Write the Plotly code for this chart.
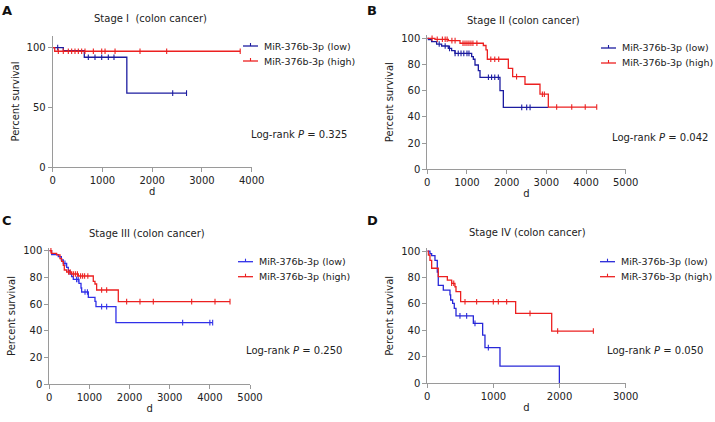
import numpy as np
import plotly.graph_objects as go

W, H = 715, 422

# ---------------- data ----------------
series_names = ["MiR-376b-3p (low)", "MiR-376b-3p (high)"]
panel_titles = ["Stage I  (colon cancer)", "Stage II (colon cancer)",
                "Stage III (colon cancer)", "Stage IV (colon cancer)"]
panel_letters = ["A", "B", "C", "D"]
p_values = ["0.325", "0.042", "0.250", "0.050"]

# Panel A (Stage I)
A_low_t = [0, 213, 635, 1490, 2690]
A_low_s = [100, 97.5, 92, 62, 62]
A_low_cens = [100, 716, 850, 985, 1118, 1232, 2412, 2690]
A_high_t = [0, 40, 3770]
A_high_s = [100, 97, 97]
A_high_cens = [113, 213, 314, 381, 448, 515, 582, 649, 817, 985, 1052, 1253, 1755, 2291, 3769]

# Panel B (Stage II)
B_low_t = [0, 25, 109, 235, 361, 529, 613, 697, 1118, 1160, 1202, 1286, 1328, 1832, 1916, 3050]
B_low_s = [100, 99, 97.4, 95.6, 94.1, 92.3, 90.5, 88.5, 86, 84, 79.6, 75.3, 70.2, 60, 47.3, 47.3]
B_low_cens = [300, 450, 560, 700, 780, 850, 920, 1000, 1050, 1540, 1620, 1700, 1790, 2380, 2505, 2590]
B_high_t = [0, 193, 530, 824, 1412, 1479, 1513, 2042, 2151, 2462, 2840, 3050, 4270]
B_high_s = [100, 99.2, 98.2, 96.2, 94.5, 91.2, 84, 77, 70.7, 64.9, 57.3, 47.5, 47.5]
B_high_cens = [120, 250, 380, 450, 500, 620, 700, 900, 950, 1000, 1050, 1100, 1150, 1250,
               1600, 1700, 1800, 2250, 2900, 2950, 3260, 3640, 3980, 4270]

# Panel C (Stage III)
C_low_t = [0, 58, 224, 300, 349, 432, 473, 515, 556, 598, 739, 790, 806, 972, 1138, 1163, 1661, 4070]
C_low_s = [100, 97, 95.5, 93, 90.5, 87.5, 85, 82.5, 80.5, 78.5, 75.5, 72, 69, 65, 62, 58, 46, 46]
C_low_cens = [390, 680, 720, 890, 950, 1304, 1429, 3322, 4000, 4070]
C_high_t = [0, 58, 183, 266, 307, 349, 374, 432, 556, 723, 1096, 1138, 1179, 1719, 4502]
C_high_s = [100, 98, 96.8, 94, 92, 89, 85.5, 84, 82.5, 81, 77, 75, 70.5, 61.75, 61.75]
C_high_cens = [40, 480, 520, 600, 650, 700, 780, 830, 880, 960, 1304, 1429,
               1927, 2259, 2591, 3547, 4128, 4502]

# Panel D (Stage IV)
D_low_t = [0, 40, 66, 116, 151, 166, 242, 343, 353, 383, 408, 434, 696, 837, 872, 1099, 1997]
D_low_s = [100, 98, 96.5, 93, 84, 74, 70.5, 66.8, 63, 60.5, 56.7, 51, 45.3, 36.5, 27, 13, 0]
D_low_cens = [494, 595, 721, 923]
D_high_t = [0, 15, 40, 66, 166, 303, 368, 418, 434, 504, 1336, 1881, 2511]
D_high_s = [100, 97, 93, 87, 80.6, 78, 75.6, 73, 69.3, 61.7, 52.9, 39.5, 39.5]
D_high_cens = [368, 400, 570, 746, 998, 1074, 1200, 1553, 1971, 2511]

x_ranges = [[0, 4000], [0, 5000], [0, 5000], [0, 3000]]
x_dticks = [1000, 1000, 1000, 1000]
y_ranges = [[0, 110], [0, 102.5], [0, 102], [0, 102]]
y_dticks = [50, 20, 20, 20]

panels = [
    (A_low_t, A_low_s, A_low_cens, A_high_t, A_high_s, A_high_cens),
    (B_low_t, B_low_s, B_low_cens, B_high_t, B_high_s, B_high_cens),
    (C_low_t, C_low_s, C_low_cens, C_high_t, C_high_s, C_high_cens),
    (D_low_t, D_low_s, D_low_cens, D_high_t, D_high_s, D_high_cens),
]

low_colors = ["#1c1ca0", "#1c1ca0", "#3030e8", "#2828d8"]
high_colors = ["#ec2020", "#ec2020", "#ec2020", "#ec2020"]

# ---------------- layout geometry (pixels) ----------------
dom_px = [
    (52.7, 251.7, 167.3, 35.7),
    (427.3, 625.7, 169.3, 35.0),
    (49.3, 250.0, 384.0, 248.0),
    (427.3, 625.7, 383.3, 248.4),
]
title_px = [(150, 19), (523, 20), (147, 233), (527, 232)]
letter_px = [(7, 10), (372, 10), (7, 220), (372, 220)]
logrank_px = [(298.5, 134), (660, 137), (293.5, 350), (655, 350.7)]
legend_px = [(262, 46), (620, 48), (257, 261.7), (619, 261.7)]   # text start x, first row y
LEG_ROW = 15
LEG_LINE = (19, 4)   # sample line spans text_x-19 .. text_x-4

FONT = "DejaVu Sans"


def px2x(px):
    return px / W


def py2y(py):
    return 1 - py / H


def step_at(ts, ss, tc):
    ts = np.asarray(ts, float)
    ss = np.asarray(ss, float)
    idx = np.searchsorted(ts, np.asarray(tc, float), side="right") - 1
    idx = np.clip(idx, 0, len(ss) - 1)
    return ss[idx]


fig = go.Figure()
annotations = []
shapes = []
layout_axes = {}

for i, (lt, ls, lc, ht, hs, hc) in enumerate(panels):
    n = "" if i == 0 else str(i + 1)
    xa, ya = "x" + n, "y" + n
    cols = [low_colors[i], high_colors[i]]
    for k, (t, s, c) in enumerate([(lt, ls, lc), (ht, hs, hc)]):
        col = cols[k]
        fig.add_trace(go.Scatter(x=t, y=s, mode="lines", line=dict(color=col, width=1.3, shape="hv"),
                                 xaxis=xa, yaxis=ya, showlegend=False, hoverinfo="skip",
                                 name=series_names[k]))
        fig.add_trace(go.Scatter(x=c, y=step_at(t, s, c), mode="markers",
                                 marker=dict(symbol="line-ns", size=4, line=dict(color=col, width=1.1)),
                                 xaxis=xa, yaxis=ya, showlegend=False, hoverinfo="skip"))

    x0, x1, yb, yt = dom_px[i]
    axcommon = dict(showline=True, linecolor="#9a9a9a", linewidth=1, ticks="outside", ticklen=4,
                    tickcolor="#9a9a9a", tickwidth=1, showgrid=False, zeroline=False,
                    automargin=False,
                    tickfont=dict(family=FONT, size=10, color="#222"), fixedrange=True)
    layout_axes["xaxis" + n] = dict(axcommon, domain=[px2x(x0), px2x(x1)], range=x_ranges[i],
                                    dtick=x_dticks[i], tick0=0, anchor=ya,
                                    title=dict(text="d", font=dict(family=FONT, size=10, color="#222"),
                                               standoff=2))
    layout_axes["yaxis" + n] = dict(axcommon, domain=[py2y(yb), py2y(yt)], range=y_ranges[i],
                                    dtick=y_dticks[i], tick0=0, anchor=xa,
                                    title=dict(text="Percent survival",
                                               font=dict(family=FONT, size=10, color="#222"),
                                               standoff=5))

    # legend (drawn as paper-space glyphs + text)
    lx, ly = legend_px[i]
    for k in range(2):
        ry = ly + k * LEG_ROW
        shapes.append(dict(type="line", xref="paper", yref="paper",
                           x0=px2x(lx - LEG_LINE[0]), x1=px2x(lx - LEG_LINE[1]),
                           y0=py2y(ry), y1=py2y(ry), line=dict(color=cols[k], width=1.3)))
        mid = lx - (LEG_LINE[0] + LEG_LINE[1]) / 2
        shapes.append(dict(type="line", xref="paper", yref="paper",
                           x0=px2x(mid), x1=px2x(mid),
                           y0=py2y(ry - 3), y1=py2y(ry), line=dict(color=cols[k], width=1.1)))
        annotations.append(dict(x=px2x(lx), y=py2y(ry), xref="paper", yref="paper",
                                text=series_names[k], showarrow=False, xanchor="left",
                                yanchor="middle",
                                font=dict(family=FONT, size=9.5, color="#222")))

    tx, ty = title_px[i]
    annotations.append(dict(x=px2x(tx), y=py2y(ty), xref="paper", yref="paper", text=panel_titles[i],
                            showarrow=False, xanchor="center", yanchor="middle",
                            font=dict(family=FONT, size=10, color="#222")))
    ax_, ay_ = letter_px[i]
    annotations.append(dict(x=px2x(ax_), y=py2y(ay_), xref="paper", yref="paper",
                            text="<b>" + panel_letters[i] + "</b>",
                            showarrow=False, xanchor="center", yanchor="middle",
                            font=dict(family="DejaVu Sans", size=13, color="#111")))
    gx, gy = logrank_px[i]
    annotations.append(dict(x=px2x(gx), y=py2y(gy), xref="paper", yref="paper",
                            text="Log-rank <i>P</i> = " + p_values[i],
                            showarrow=False, xanchor="center", yanchor="middle",
                            font=dict(family=FONT, size=10, color="#222")))

fig.update_layout(width=W, height=H, autosize=False, margin=dict(l=0, r=0, t=0, b=0),
                  paper_bgcolor="white", plot_bgcolor="white", showlegend=False,
                  annotations=annotations, shapes=shapes, **layout_axes)

fig.write_html("out.html", config={"displayModeBar": False},
               post_script="document.body.style.margin='0px';document.body.style.overflow='hidden';")
